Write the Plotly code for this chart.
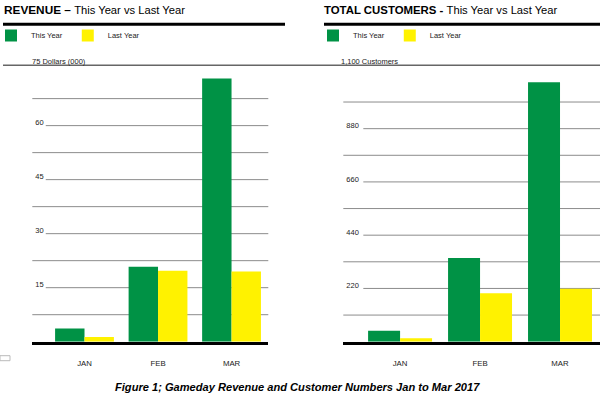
import plotly.graph_objects as go

W, H = 600, 395
ML = 20
def px_x(x): return (x - ML) / (W - ML)
def px_y(y): return 1 - y / H

months = ["JAN", "FEB", "MAR"]
revenue_this_year = [3.7, 20.8, 73.1]
revenue_last_year = [1.3, 19.7, 19.5]
customers_this_year = [45, 346, 1072]
customers_last_year = [14, 200, 219]

rev_grid = [7.5, 15, 22.5, 30, 37.5, 45, 52.5, 60, 67.5]
rev_ticks = [15, 30, 45, 60]
cust_grid = [110, 220, 330, 440, 550, 660, 770, 880, 990]
cust_ticks = [220, 440, 660, 880]

GREEN = "#009245"
YELLOW = "#FFF200"
FONT = "Liberation Sans, Arial, sans-serif"

fig = go.Figure()
fig.add_bar(x=months, y=revenue_this_year, name="This Year", marker_color=GREEN,
            marker_line_width=0, xaxis="x", yaxis="y", legend="legend")
fig.add_bar(x=months, y=revenue_last_year, name="Last Year", marker_color=YELLOW,
            marker_line_width=0, xaxis="x", yaxis="y", legend="legend")
fig.add_bar(x=months, y=customers_this_year, name="This Year", marker_color=GREEN,
            marker_line_width=0, xaxis="x2", yaxis="y2", legend="legend2")
fig.add_bar(x=months, y=customers_last_year, name="Last Year", marker_color=YELLOW,
            marker_line_width=0, xaxis="x2", yaxis="y2", legend="legend2")

ydom = [px_y(341.7), px_y(65.3)]
xaxis_common = dict(range=[-0.71, 2.5], showline=True, linecolor="black", linewidth=2.5,
                    showgrid=False, zeroline=False, ticks="", ticklabelstandoff=12,
                    tickfont=dict(size=7.8, color="#222", family=FONT), fixedrange=True)
yaxis_common = dict(showgrid=False, zeroline=False, showline=False, ticks="",
                    ticklabelposition="inside", ticklabelshift=-3,
                    tickfont=dict(size=7.5, color="#222", family=FONT))

legend_common = dict(orientation="h", xanchor="left", yanchor="top",
                     font=dict(size=7.5, color="#222", family=FONT),
                     bgcolor="rgba(0,0,0,0)", itemclick=False, tracegroupgap=0)

fig.update_layout(
    width=W, height=H, margin=dict(l=ML, r=0, t=0, b=0, autoexpand=False),
    paper_bgcolor="white", plot_bgcolor="white",
    font=dict(family=FONT, color="#222"),
    barmode="group", bargap=0.2, bargroupgap=0,
    xaxis=dict(domain=[px_x(32.3), px_x(268.3)], anchor="y", **xaxis_common),
    xaxis2=dict(domain=[px_x(343.3), 1.0], anchor="y2", **xaxis_common),
    yaxis=dict(domain=ydom, anchor="x", range=[0, 76.75], tickvals=rev_ticks,
               ticktext=[str(v) for v in rev_ticks], **yaxis_common),
    yaxis2=dict(domain=ydom, anchor="x2", range=[0, 1141.7], tickvals=cust_ticks,
                ticktext=[str(v) for v in cust_ticks], **yaxis_common),
    legend=dict(x=px_x(-9), y=px_y(21), **legend_common),
    legend2=dict(x=px_x(313), y=px_y(21), **legend_common),
    showlegend=True,
)

shapes = []
for v in rev_grid:
    shapes.append(dict(type="line", xref="x domain", yref="y",
                       x0=0.057 if v in rev_ticks else 0, x1=1, y0=v, y1=v,
                       line=dict(color="#8c8c8c", width=1), layer="below"))
for v in cust_grid:
    shapes.append(dict(type="line", xref="x2 domain", yref="y2",
                       x0=0.078 if v in cust_ticks else 0, x1=1, y0=v, y1=v,
                       line=dict(color="#8c8c8c", width=1), layer="below"))
shapes.append(dict(type="line", xref="paper", yref="paper", x0=px_x(3), x1=1,
                   y0=px_y(65.3), y1=px_y(65.3), line=dict(color="#666", width=1.5)))
shapes.append(dict(type="line", xref="paper", yref="paper", x0=px_x(3), x1=px_x(285),
                   y0=px_y(24.3), y1=px_y(24.3), line=dict(color="black", width=3)))
shapes.append(dict(type="line", xref="paper", yref="paper", x0=px_x(324), x1=1,
                   y0=px_y(24.3), y1=px_y(24.3), line=dict(color="black", width=3)))
shapes.append(dict(type="rect", xref="paper", yref="paper", x0=px_x(0), x1=px_x(10),
                   y0=px_y(360.7), y1=px_y(355.7), line=dict(color="#bbb", width=1),
                   fillcolor="white"))
fig.update_layout(shapes=shapes)

REG = "<span style='font-size:11.2px'>"
ann = []
ann.append(dict(text="<b>REVENUE –</b> " + REG + "This Year vs Last Year</span>",
                xref="paper", yref="paper",
                x=px_x(2), y=px_y(10), xanchor="left", yanchor="middle", showarrow=False,
                font=dict(size=11.8, color="black", family=FONT)))
ann.append(dict(text="<b>TOTAL CUSTOMERS -</b> " + REG + "This Year vs Last Year</span>",
                xref="paper", yref="paper",
                x=px_x(322), y=px_y(10), xanchor="left", yanchor="middle", showarrow=False,
                font=dict(size=11.4, color="black", family=FONT)))
ann.append(dict(text="75 Dollars (000)", xref="paper", yref="paper",
                x=px_x(30), y=px_y(62), xanchor="left", yanchor="middle", showarrow=False,
                font=dict(size=7.5, color="#222", family=FONT)))
ann.append(dict(text="1,100 Customers", xref="paper", yref="paper",
                x=px_x(339), y=px_y(62), xanchor="left", yanchor="middle", showarrow=False,
                font=dict(size=7.5, color="#222", family=FONT)))
ann.append(dict(text="<b><i>Figure 1; Gameday Revenue and Customer Numbers Jan to Mar 2017</i></b>",
                xref="paper", yref="paper", x=px_x(297.5), y=px_y(386.5), xanchor="center",
                yanchor="middle", showarrow=False, font=dict(size=11.1, color="black", family=FONT)))
fig.update_layout(annotations=ann)

fig.write_html("out.html", config={"displayModeBar": False},
               post_script="document.body.style.margin='0';document.body.style.overflow='hidden';")
